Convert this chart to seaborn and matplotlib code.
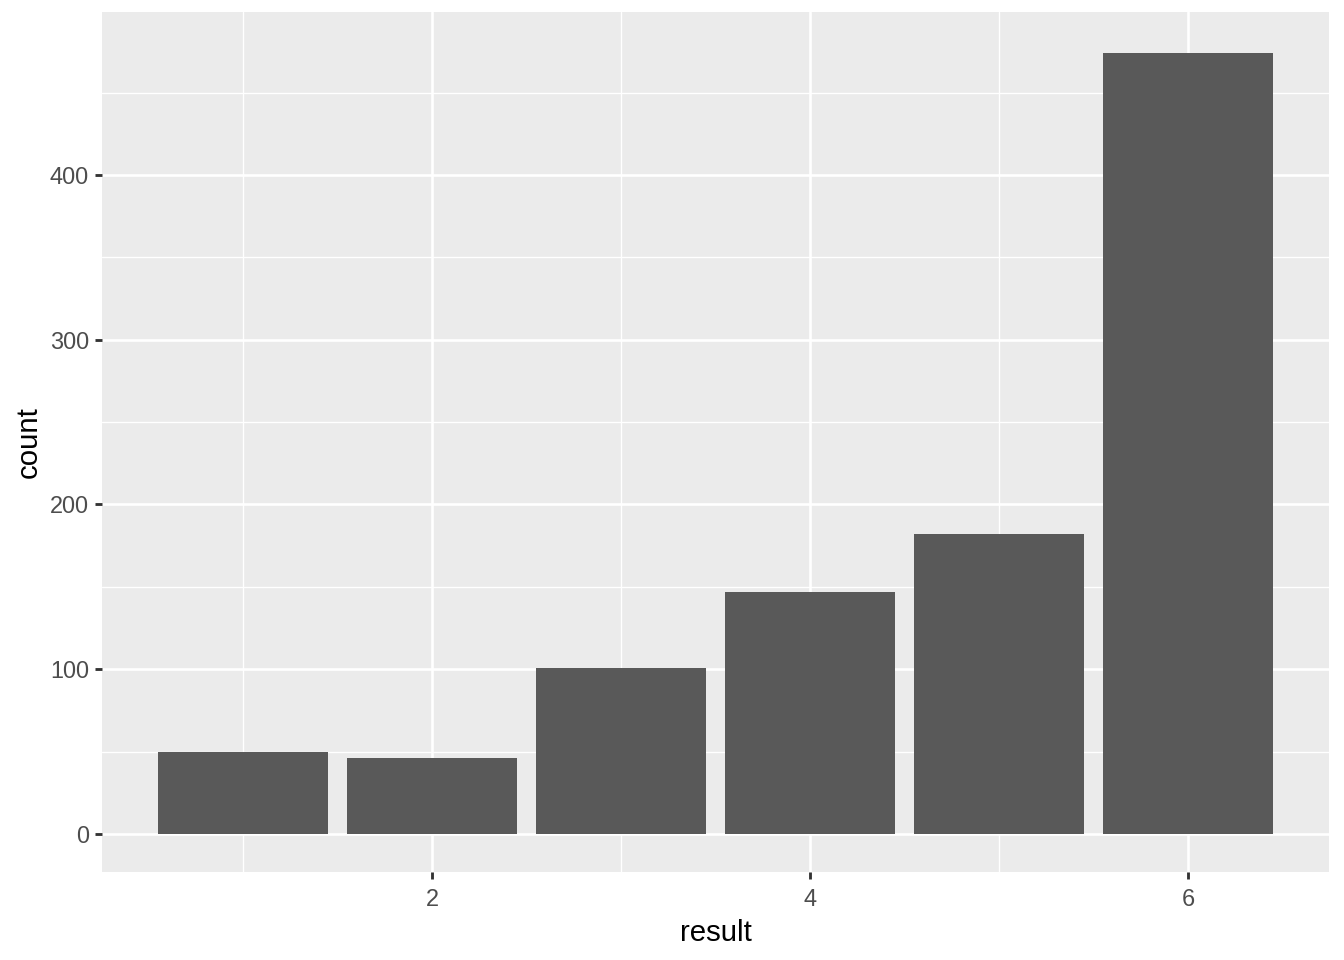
import numpy as np
import pandas as pd
import matplotlib
matplotlib.use("Agg")
import matplotlib.pyplot as plt
import seaborn as sns

# die results and how often each came up
results = [1, 2, 3, 4, 5, 6]
counts = [50, 46, 101, 147, 182, 474]

df = pd.DataFrame({"result": results, "count": counts})

sns.set_theme(style="darkgrid")
plt.rcParams["font.family"] = ["Liberation Sans", "DejaVu Sans"]

fig = plt.figure(figsize=(7, 5), dpi=192)
ax = fig.add_axes([102 / 1344, 1 - 872 / 960, (1329 - 102) / 1344, (872 - 12) / 960])
ax.set_facecolor("#EBEBEB")

sns.barplot(data=df, x="result", y="count", native_scale=True, width=0.9,
            color="#595959", saturation=1, edgecolor="none", ax=ax)

# ggplot-like limits (5% expansion)
ax.set_xlim(0.255, 6.745)
ax.set_ylim(-23.1, 498.9)

ax.set_xticks([2, 4, 6])
ax.set_xticks([1, 3, 5], minor=True)
ax.set_yticks([0, 100, 200, 300, 400])
ax.set_yticks([50, 150, 250, 350, 450], minor=True)

ax.grid(which="major", color="white", linewidth=1.0)
ax.grid(which="minor", color="white", linewidth=0.5)
ax.set_axisbelow(True)
for s in ax.spines.values():
    s.set_visible(False)

ax.tick_params(which="major", length=2.75, width=1.07, color="#333333",
               labelsize=8.8, labelcolor="#4D4D4D", pad=2.2)
ax.tick_params(which="minor", length=0)
ax.tick_params(axis="x", bottom=True, pad=3.2)
ax.tick_params(axis="y", left=True)

ax.set_xlabel("result", fontsize=11, color="black", labelpad=3.2)
ax.set_ylabel("count", fontsize=11, color="black", labelpad=2.5)

fig.savefig("out.png", dpi=192, facecolor="white")
